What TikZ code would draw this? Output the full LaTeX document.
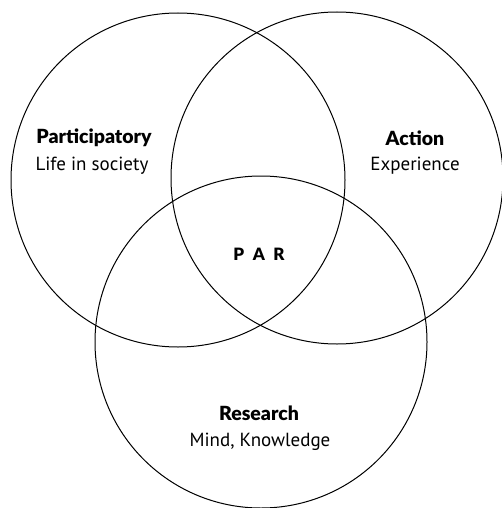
\documentclass[tikz,border=0pt]{standalone}
\usepackage{fontspec}
\setmainfont{PT Sans}
\newfontfamily\heavyfont{Lato Black}
\begin{document}
\begin{tikzpicture}[x=1pt,y=-1pt,
  ring/.style={draw=black,line width=1pt},
  title/.style={font=\fontsize{19.5}{23}\heavyfont,inner sep=0pt,anchor=center},
  sub/.style={font=\fontsize{19}{22}\selectfont,inner sep=0pt,anchor=center}]
\useasboundingbox (0,0) rectangle (502,508);
\draw[ring] (178,180) circle (167);
\draw[ring] (337,178) circle (166);
\draw[ring] (261,342) circle (166);
\node[title] (pt) at (94,138) {Participatory};
\node[sub] (ps) at (92,166) {Life in society};
\node[title] (at) at (415,138) {Action};
\node[sub] (as) at (415,166) {Experience};
\node[title,font=\fontsize{17}{20}\heavyfont] (par) at (259,254) {P\,\,\,A\,\,\,R};
\node[title] (rt) at (259,413) {Research};
\node[sub] (rs) at (260,442) {Mind, Knowledge};
\end{tikzpicture}
\end{document}
